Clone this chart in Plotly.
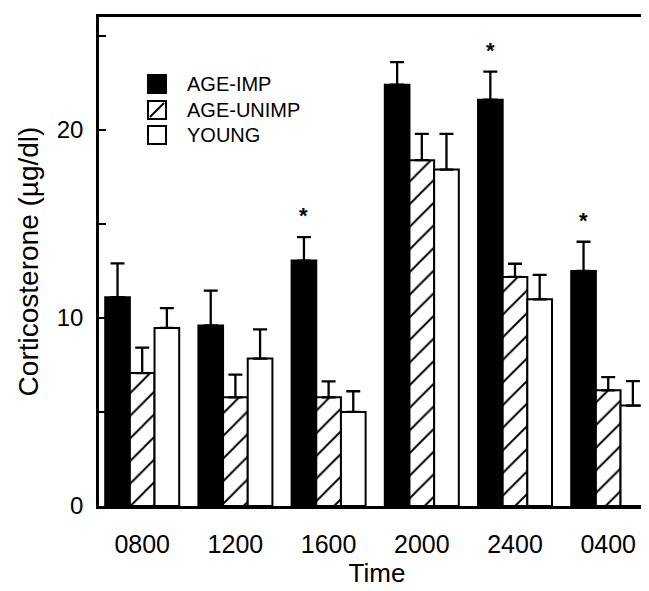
import plotly.graph_objects as go

# ---------------- data ----------------
times = ["0800", "1200", "1600", "2000", "2400", "0400"]
groups = ["AGE-IMP", "AGE-UNIMP", "YOUNG"]
age_imp = [11.1, 9.6, 13.05, 22.4, 21.6, 12.5]
age_imp_err = [1.8, 1.85, 1.25, 1.2, 1.5, 1.55]
age_unimp = [7.07, 5.78, 5.78, 18.39, 12.18, 6.15]
age_unimp_err = [1.35, 1.2, 0.85, 1.4, 0.7, 0.7]
young = [9.47, 7.84, 5.0, 17.89, 10.99, 5.34]
young_err = [1.05, 1.55, 1.1, 1.9, 1.3, 1.3]
significant = ["1600", "2400", "0400"]
y_ticks = [0, 5, 10, 15, 20, 25]
y_ticklabels = ["0", "", "10", "", "20", ""]

FONT = "Liberation Sans, Arial, Helvetica, sans-serif"

W, H = 649, 591
ML, MR, MT, MB = 91, 2, 9, 93
PW, PH = W - ML - MR, H - MT - MB
X_RANGE = [-0.4635, 5.502]

def xp(px):
    return (px - ML) / PW

def yp(py):
    return (H - MB - py) / PH

series = [
    (groups[0], age_imp, age_imp_err, dict(color="black", line=dict(color="black", width=2))),
    (groups[1], age_unimp, age_unimp_err, dict(color="white", line=dict(color="black", width=2),
                                               pattern=dict(shape="/", fgcolor="black", bgcolor="white",
                                                            fgopacity=1, fillmode="replace",
                                                            size=16, solidity=0.12))),
    (groups[2], young, young_err, dict(color="white", line=dict(color="black", width=2))),
]

fig = go.Figure()
for name, vals, errs, marker in series:
    fig.add_trace(go.Bar(
        name=name, x=times, y=vals, marker=marker,
        error_y=dict(type="data", symmetric=False, array=errs, arrayminus=[0] * len(errs),
                     color="black", thickness=2.3, width=7),
        showlegend=False,
    ))

group_width = 0.794
bar_shift_px = -(group_width / 3) * (PW / (X_RANGE[1] - X_RANGE[0]))

annotations = []
for t in significant:
    i = times.index(t)
    annotations.append(dict(
        x=i, y=age_imp[i] + age_imp_err[i] + 1.45, xref="x", yref="y",
        text="<b>*</b>", showarrow=False, xshift=bar_shift_px, yshift=-6,
        font=dict(family=FONT, size=22, color="black"),
        xanchor="center", yanchor="middle",
    ))

# legend (drawn manually to match the square swatches)
shapes = []
rows = [76, 102, 127]
sq = 18
sx0, sx1 = 140, 140 + sq
for k, (name, _, _, _) in enumerate(series):
    cy = rows[k]
    y0, y1 = cy - sq / 2, cy + sq / 2
    fill = "black" if k == 0 else "white"
    shapes.append(dict(type="rect", xref="paper", yref="paper",
                       x0=xp(sx0), x1=xp(sx1), y0=yp(y1), y1=yp(y0),
                       fillcolor=fill, line=dict(color="black", width=2)))
    if k == 1:
        shapes.append(dict(type="line", xref="paper", yref="paper",
                           x0=xp(sx0 + 2), y0=yp(y1 - 2), x1=xp(sx1 - 2), y1=yp(y0 + 2),
                           line=dict(color="black", width=2)))
    annotations.append(dict(
        x=xp(177), y=yp(cy), xref="paper", yref="paper", text=name, showarrow=False,
        xanchor="left", yanchor="middle", font=dict(family=FONT, size=20, color="black"),
    ))

fig.update_layout(
    width=W, height=H,
    margin=dict(l=ML, r=MR, t=MT, b=MB, autoexpand=False),
    paper_bgcolor="white", plot_bgcolor="white",
    barmode="group", bargap=1 - group_width, bargroupgap=0,
    font=dict(family=FONT, color="black"),
    shapes=shapes, annotations=annotations,
    showlegend=False,
)
fig.update_xaxes(
    type="category", range=X_RANGE,
    showline=True, linecolor="black", linewidth=2.5, mirror=True,
    showgrid=False, zeroline=False, ticks="",
    tickfont=dict(family=FONT, size=25, color="black"), ticklabelstandoff=14,
    title=dict(text="Time", font=dict(family=FONT, size=26, color="black"), standoff=8),
)
fig.update_yaxes(
    range=[0, 26], tickmode="array", tickvals=y_ticks, ticktext=y_ticklabels,
    showline=True, linecolor="black", linewidth=2.5, mirror=True,
    showgrid=False, zeroline=False, ticks="inside", ticklen=7, tickwidth=2, tickcolor="black",
    tickfont=dict(family=FONT, size=24, color="black"), ticklabelstandoff=8,
    title=dict(text="Corticosterone (µg/dl)", font=dict(family=FONT, size=28, color="black"), standoff=10),
)

fig.write_html("out.html")
